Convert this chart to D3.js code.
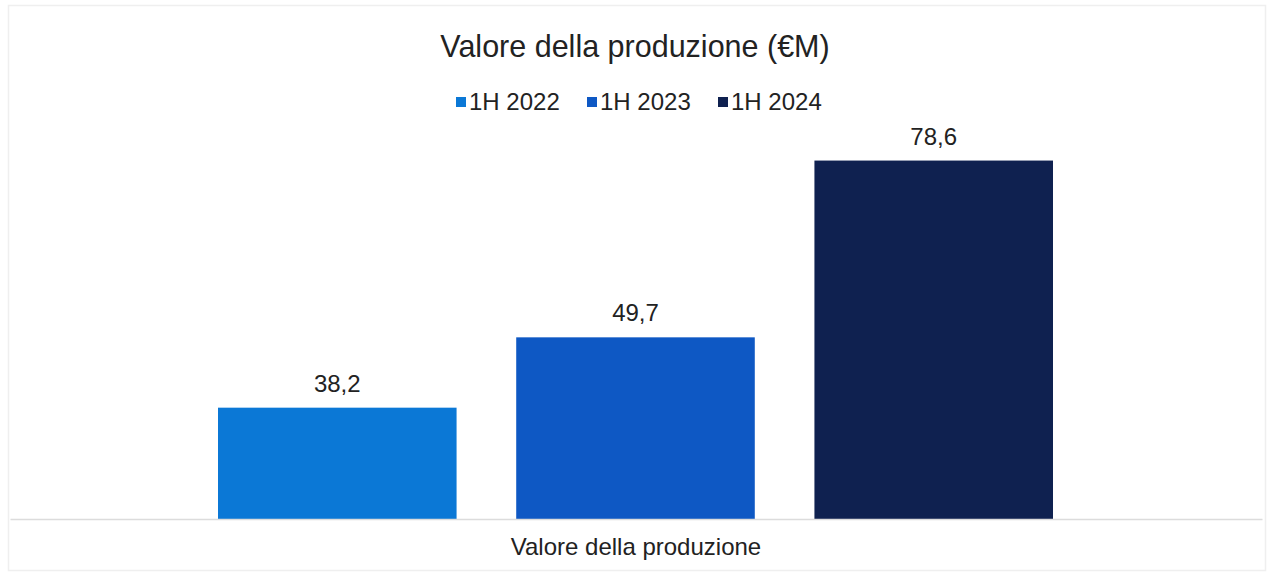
<!DOCTYPE html>
<html>
<head>
<meta charset="utf-8">
<script src="https://cdn.jsdelivr.net/npm/d3@7"></script>
<style>
  html, body { margin: 0; padding: 0; background: #ffffff; }
  svg { display: block; }
  text { font-family: "Liberation Sans", Arial, sans-serif; fill: #222222; }
</style>
</head>
<body>
<svg id="chart" width="1270" height="576"></svg>
<script>
// Chart data
const category = "Valore della produzione";
const series = ["1H 2022", "1H 2023", "1H 2024"];
const values = [38.2, 49.7, 78.6];
const colors = ["#0b78d6", "#0e58c4", "#0f2150"];
const yDomain = [20, 80];

const fmt = v => d3.format(".1f")(v).replace(".", ",");

const svg = d3.select("#chart");

// light frame around the chart area
svg.append("rect")
  .attr("x", 8.5).attr("y", 5.5)
  .attr("width", 1257).attr("height", 565)
  .attr("fill", "none")
  .attr("stroke", "#efefef")
  .attr("stroke-width", 1.5);

const x = d3.scaleBand()
  .domain(series)
  .range([218, 1053])
  .paddingInner(0.2)
  .paddingOuter(0);

const y = d3.scaleLinear()
  .domain(yDomain)
  .range([519, 152]);

// title
svg.append("text")
  .attr("x", 635).attr("y", 57)
  .attr("text-anchor", "middle")
  .attr("font-size", 30.5)
  .text("Valore della produzione (€M)");

// legend
const legendX = [456, 587, 718];
const legend = svg.append("g").selectAll("g")
  .data(series)
  .join("g")
  .attr("transform", (d, i) => `translate(${legendX[i]},102)`);
legend.append("rect")
  .attr("x", 0).attr("y", -5)
  .attr("width", 10).attr("height", 10)
  .attr("fill", (d, i) => colors[i]);
legend.append("text")
  .attr("x", 13).attr("y", 0)
  .attr("dy", "0.35em")
  .attr("font-size", 24)
  .text(d => d);

// bars
svg.append("g").selectAll("rect")
  .data(values)
  .join("rect")
  .attr("x", (d, i) => x(series[i]))
  .attr("y", d => y(d))
  .attr("width", x.bandwidth())
  .attr("height", d => y(yDomain[0]) - y(d))
  .attr("fill", (d, i) => colors[i]);

// value labels
svg.append("g").selectAll("text")
  .data(values)
  .join("text")
  .attr("x", (d, i) => x(series[i]) + x.bandwidth() / 2)
  .attr("y", d => y(d) - 16)
  .attr("text-anchor", "middle")
  .attr("font-size", 24)
  .text(d => fmt(d));

// category axis
const xAxis = d3.scaleBand().domain([category]).range([10, 1262]);
const axisG = svg.append("g")
  .attr("transform", `translate(0,${y(yDomain[0])})`)
  .call(d3.axisBottom(xAxis).tickSize(0).tickPadding(19));
axisG.select(".domain").attr("stroke", "#dcdcdc").attr("stroke-width", 1.5);
axisG.selectAll(".tick text")
  .attr("font-size", 24)
  .attr("font-family", "Liberation Sans, Arial, sans-serif")
  .attr("fill", "#222222");
</script>
</body>
</html>
